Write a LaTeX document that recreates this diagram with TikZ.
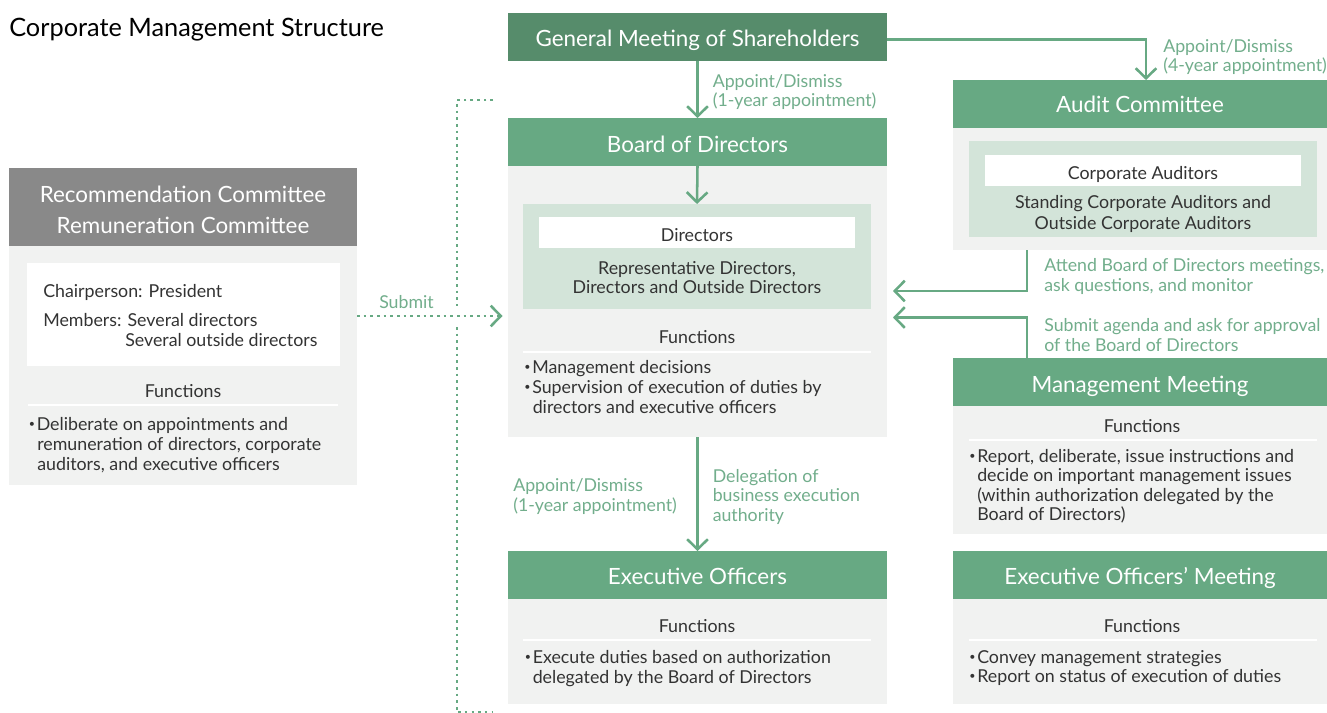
\documentclass[tikz,border=0pt]{standalone}
\usepackage{fontspec}
\setmainfont{Lato}
\usetikzlibrary{arrows.meta,fit}
\definecolor{dkgreen}{HTML}{568C6B}
\definecolor{hgreen}{HTML}{67A983}
\definecolor{lblgreen}{HTML}{72AE8C}
\definecolor{ltgreen}{HTML}{D3E4D9}
\definecolor{bodygrey}{HTML}{F1F2F1}
\definecolor{hdrgrey}{HTML}{898989}
\definecolor{txt}{HTML}{333333}
\newcommand{\bul}{\makebox[6pt][l]{\raisebox{0.3ex}{\scalebox{0.6}{•}}}}
\newcommand{\bx}[6]{\node[boxshape,#6,fit={(#2,#3)(#4,#5)}] (#1) {};}
\tikzset{
  boxshape/.style={rectangle,inner sep=0pt,outer sep=0pt,draw=none},
  hdr/.style={font=\fontsize{16.8}{19}\selectfont,text=white,inner sep=0pt,anchor=base},
  bt/.style={font=\fontsize{13.35}{15}\selectfont,text=txt,inner sep=0pt,anchor=base},
  btl/.style={bt,anchor=base west},
  lbl/.style={font=\fontsize{13.3}{15}\selectfont,text=lblgreen,inner sep=0pt,anchor=base west},
  arr/.style={draw=hgreen,line width=1.9pt,-{Straight Barb[length=7.5pt,width=15.5pt]}},
  conn/.style={draw=hgreen,line width=1.9pt},
  dots/.style={draw=hgreen,line width=1.9pt,dash pattern=on 1.9pt off 3.1pt},
  sepline/.style={draw=white,line width=1.5pt}
}
\begin{document}
\begin{tikzpicture}[x=0.75pt,y=-0.75pt]
\useasboundingbox (0,0) rectangle (1327,713);
\fill[white] (0,0) rectangle (1327,713);

% ---------- title
\node[font=\fontsize{19}{22}\selectfont,text=black,inner sep=0pt,anchor=base west] (title) at (9,37) {Corporate Management Structure};

% ---------- boxes
\bx{gms}{508}{13}{887}{61}{fill=dkgreen}
\bx{bodh}{508}{118}{887}{166}{fill=hgreen}
\bx{bodb}{508}{166}{887}{437}{fill=bodygrey}
\bx{dirbox}{523}{204}{871}{308.5}{fill=ltgreen}
\bx{dirbar}{539}{217}{855}{247.5}{fill=white}
\bx{audh}{953}{80}{1327}{128}{fill=hgreen}
\bx{audb}{953}{128}{1327}{250}{fill=bodygrey}
\bx{audbox}{969}{141}{1317}{237}{fill=ltgreen}
\bx{audbar}{985}{155}{1301}{185.5}{fill=white}
\bx{mmh}{953}{358}{1327}{406}{fill=hgreen}
\bx{mmb}{953}{406}{1327}{534}{fill=bodygrey}
\bx{eoh}{508}{551}{887}{599}{fill=hgreen}
\bx{eob}{508}{599}{887}{703.5}{fill=bodygrey}
\bx{eomh}{953}{551}{1327}{599}{fill=hgreen}
\bx{eomb}{953}{599}{1327}{703.5}{fill=bodygrey}
\bx{lch}{9}{168}{357}{246}{fill=hdrgrey}
\bx{lcb}{9}{246}{357}{485}{fill=bodygrey}
\bx{lcw}{27}{263}{340}{366}{fill=white}

% ---------- separator lines under "Functions"
\coordinate (s1a) at (523,351.5); \coordinate (s1b) at (871,351.5);
\coordinate (s2a) at (969,440); \coordinate (s2b) at (1317,440);
\coordinate (s3a) at (523,640); \coordinate (s3b) at (871,640);
\coordinate (s4a) at (969,639.5); \coordinate (s4b) at (1317,639.5);
\coordinate (s5a) at (28,405); \coordinate (s5b) at (338,405);
\draw[sepline] (s1a) -- (s1b);
\draw[sepline] (s2a) -- (s2b);
\draw[sepline] (s3a) -- (s3b);
\draw[sepline] (s4a) -- (s4b);
\draw[sepline] (s5a) -- (s5b);

% ---------- header texts
\node[hdr] (tgms) at (697.5,47) {General Meeting of Shareholders};
\node[hdr] (tbod) at (697.5,152) {Board of Directors};
\node[hdr] (taud) at (1140,113) {Audit Committee};
\node[hdr] (tmm) at (1140,392) {Management Meeting};
\node[hdr] (teo) at (697.5,584) {Executive Officers};
\node[hdr] (teom) at (1140,584) {Executive Officers’ Meeting};
\node[hdr] (tlc1) at (183,202) {Recommendation Committee};
\node[hdr] (tlc2) at (183,233) {Remuneration Committee};

% ---------- Board of Directors body
\node[bt] (tdir) at (697,241) {Directors};
\node[bt] (tdir1) at (697,274) {Representative Directors,};
\node[bt] (tdir2) at (697,293.5) {Directors and Outside Directors};
\node[bt] (tbf) at (697,343.5) {Functions};
\node[btl] (tbf1) at (524,373.5) {\bul Management decisions};
\node[btl] (tbf2) at (524,393.5) {\bul Supervision of execution of duties by};
\node[btl] (tbf3) at (532.5,413.5) {directors and executive officers};

% ---------- Audit body
\node[bt] (tca) at (1143,179.5) {Corporate Auditors};
\node[bt] (tca1) at (1143,209) {Standing Corporate Auditors and};
\node[bt] (tca2) at (1143,229) {Outside Corporate Auditors};

% ---------- Management meeting body
\node[bt] (tmf) at (1142,432) {Functions};
\node[btl] (tmf1) at (969,462) {\bul Report, deliberate, issue instructions and};
\node[btl] (tmf2) at (977,481.5) {decide on important management issues};
\node[btl] (tmf3) at (977,501) {(within authorization delegated by the};
\node[btl] (tmf4) at (977,520.5) {Board of Directors)};

% ---------- Executive officers body
\node[bt] (tef) at (697,632) {Functions};
\node[btl] (tef1) at (524.5,663) {\bul Execute duties based on authorization};
\node[btl] (tef2) at (532.5,683) {delegated by the Board of Directors};

% ---------- Executive officers' meeting body
\node[bt] (tmf) at (1142,632) {Functions};
\node[btl] (tem1) at (969,663) {\bul Convey management strategies};
\node[btl] (tem2) at (969,682.5) {\bul Report on status of execution of duties};

% ---------- Left committee body
\node[btl] (tlc3) at (43,297) {Chairperson: President};
\node[btl] (tlc4) at (43,326) {Members: Several directors};
\node[btl] (tlc5) at (125,346) {Several outside directors};
\node[bt] (tlf) at (183,397) {Functions};
\node[btl] (tlf1) at (28.5,430) {\bul Deliberate on appointments and};
\node[btl] (tlf2) at (37,450) {remuneration of directors, corporate};
\node[btl] (tlf3) at (37,470) {auditors, and executive officers};

% ---------- connector labels
\node[lbl] (l1a) at (712.5,87.5) {Appoint/Dismiss};
\node[lbl] (l1b) at (712.5,107) {(1-year appointment)};
\node[lbl] (l2a) at (1163,52.5) {Appoint/Dismiss};
\node[lbl] (l2b) at (1163,72) {(4-year appointment)};
\node[lbl] (l3a) at (1044,271) {Attend Board of Directors meetings,};
\node[lbl] (l3b) at (1044,291) {ask questions, and monitor};
\node[lbl] (l4a) at (1044,331) {Submit agenda and ask for approval};
\node[lbl] (l4b) at (1044,351) {of the Board of Directors};
\node[lbl] (l5a) at (513,491) {Appoint/Dismiss};
\node[lbl] (l5b) at (513,511) {(1-year appointment)};
\node[lbl] (l6a) at (712.5,482) {Delegation of};
\node[lbl] (l6b) at (712.5,501.5) {business execution};
\node[lbl] (l6c) at (712.5,521) {authority};
\node[lbl] (l7) at (379,308.5) {Submit};

% ---------- connectors
\draw[arr] (gms.south) -- (bodh.north);
\draw[arr] (bodh.south) -- (dirbox.north);
\draw[arr] (bodb.south) -- (eoh.north);
\coordinate (g1) at (887,39.5);
\coordinate (g2) at (1146,80);
\draw[arr] (g1) -| (g2);
\coordinate (r1) at (1027,250);
\coordinate (r1e) at (893,291);
\draw[arr] (r1) |- (r1e);
\coordinate (r2) at (1027,358);
\coordinate (r2e) at (893,317.5);
\draw[arr] (r2) |- (r2e);
\coordinate (sb1) at (357,316);
\coordinate (sb2) at (502.5,316);
\draw[dots,-{Straight Barb[length=7.5pt,width=15.5pt,line width=1.9pt]}] (sb1) -- (sb2);
\coordinate (d1) at (493,100);
\coordinate (d2) at (457,100);
\coordinate (d3) at (457,306);
\coordinate (d4) at (457,327);
\coordinate (d5) at (457,712.5);
\coordinate (d6) at (493,712.5);
\draw[dots] (d1) -- (d2) -- (d3);
\draw[dots] (d4) -- (d5) -- (d6);
\end{tikzpicture}
\end{document}
